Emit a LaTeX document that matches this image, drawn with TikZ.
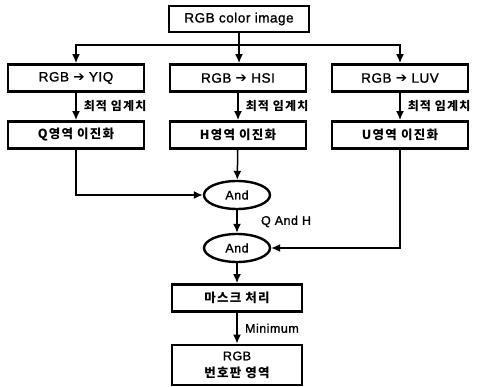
\documentclass[tikz,border=0pt]{standalone}
\usepackage{fontspec}
\setmainfont{Liberation Sans}[FakeBold=1.2, LetterSpace=4]
\newfontfamily\krfont[LetterSpace=10]{Noto Sans CJK KR}
\newfontfamily\symfont{DejaVu Sans}
\usetikzlibrary{shapes,arrows.meta,positioning,calc}

\tikzset{
  box/.style={draw, line width=2.8pt, minimum width=136pt, minimum height=27pt, inner sep=2pt, font=\fontsize{13.5}{15}\selectfont},
  krbox/.style={box, font=\fontsize{12.5}{16}\selectfont\krfont\bfseries},
  andnode/.style={draw, ellipse, line width=2.4pt, minimum width=66pt, minimum height=28pt, inner sep=0pt, font=\fontsize{12.5}{14}\selectfont},
  arr/.style={-{Latex[length=9pt,width=8pt]}, line width=1.5pt},
  line/.style={line width=1.5pt},
  lbl/.style={font=\fontsize{12}{14}\selectfont\krfont\bfseries, inner sep=0pt}
}

\begin{document}
\begin{tikzpicture}[x=1pt,y=-1pt]
    \useasboundingbox (0,0) rectangle (493,387);
    % top
    \node[box, minimum width=140pt, minimum height=26pt] (img) at (239,19) {RGB color image};
    \coordinate (split) at (239,45);
    % colour spaces
    \node[box] (yiq) at (76,78) {RGB {\symfont\bfseries ➔} YIQ};
    \node[box] (hsi) at (238,78) {RGB {\symfont\bfseries ➔} HSI};
    \node[box] (luv) at (400,78) {RGB {\symfont\bfseries ➔} LUV};
    % binarisation
    \node[krbox] (qbin) at (76,135) {Q영역 이진화};
    \node[krbox] (hbin) at (238,135) {H영역 이진화};
    \node[krbox] (ubin) at (400,135) {U영역 이진화};
    % and
    \node[andnode] (and1) at (237,195) {And};
    \node[andnode] (and2) at (237,248) {And};
    % mask and result
    \node[krbox, minimum width=130pt] (mask) at (237,298) {마스크 처리};
    \node[krbox, minimum width=130pt, minimum height=40pt, align=center, font=\fontsize{12.5}{17}\selectfont\krfont\bfseries] (plate) at (237,365) {{\rmfamily\mdseries RGB}\\번호판 영역};

    \draw[line] (img) -- (split);
    \draw[arr] (split) -| (yiq);
    \draw[arr] (split) -- (split |- hsi.north);
    \draw[arr] (split) -| (luv);
    \draw[arr] (yiq) -- node[lbl, right=7pt] {최적 임계치} (qbin);
    \draw[arr] (hsi) -- node[lbl, right=7pt] {최적 임계치} (hbin);
    \draw[arr] (luv) -- node[lbl, right=7pt] {최적 임계치} (ubin);
    \draw[arr] (qbin) |- (and1);
    \draw[arr] (hbin) -- (and1);
    \draw[arr] (and1) -- node[right=20pt, font=\fontsize{12.5}{14}\selectfont] {Q And H} (and2);
    \draw[arr] (ubin) |- (and2);
    \draw[arr] (and2) -- (mask);
    \draw[arr] (mask) -- node[right=4pt, font=\fontsize{12.5}{14}\selectfont] {Minimum} (plate);
\end{tikzpicture}
\end{document}
